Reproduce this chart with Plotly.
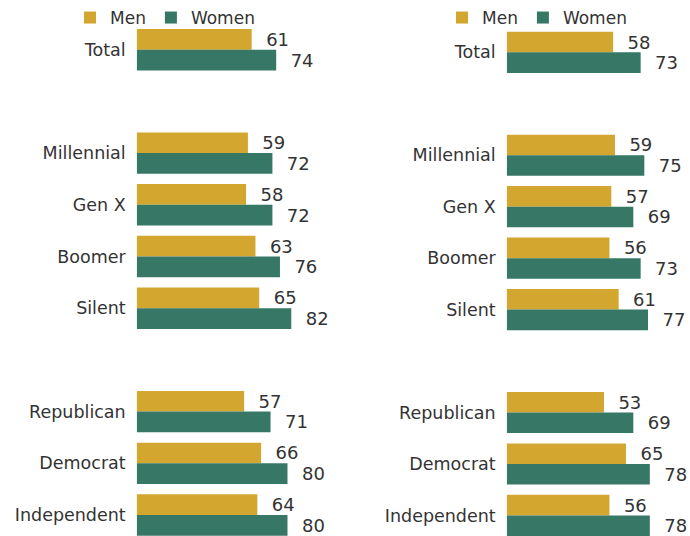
import plotly.graph_objects as go

categories = ["Total", "Millennial", "Gen X", "Boomer", "Silent", "Republican", "Democrat", "Independent"]
left_men = [61, 59, 58, 63, 65, 57, 66, 64]
left_women = [74, 72, 72, 76, 82, 71, 80, 80]
right_men = [58, 59, 57, 56, 61, 53, 65, 56]
right_women = [73, 75, 69, 73, 77, 69, 78, 78]

MEN_COLOR = "#D2A62F"
WOMEN_COLOR = "#377766"
TEXT_COLOR = "#333333"
FONT = "DejaVu Sans"

# category order with blank spacer rows between groups
cat_order = ["Total", " ", "Millennial", "Gen X", "Boomer", "Silent", "  ",
             "Republican", "Democrat", "Independent"]

W, H = 690, 536

fig = go.Figure()

def add_pair(men, women, xa, ya, legend):
    for name, vals, color in (("Men", men, MEN_COLOR), ("Women", women, WOMEN_COLOR)):
        fig.add_trace(go.Bar(
            y=categories, x=vals, name=name, orientation="h",
            marker=dict(color=color, line=dict(width=0)),
            text=vals, texttemplate="\u00a0\u00a0%{x}",
            textposition="outside", cliponaxis=False, constraintext="none",
            textfont=dict(family=FONT, size=18, color=TEXT_COLOR),
            xaxis=xa, yaxis=ya, legend=legend, hoverinfo="skip",
        ))

add_pair(left_men, left_women, "x", "y", "legend")
add_pair(right_men, right_women, "x2", "y2", "legend2")

left_x0 = 136.7
left_ppu = 1.885
right_x0 = 506.7
right_ppu = 1.835

axis_common = dict(showgrid=False, zeroline=False, showline=False, showticklabels=False, fixedrange=True)
ycommon = dict(type="category", categoryorder="array", categoryarray=cat_order,
               showgrid=False, zeroline=False, showline=False, ticks="",
               ticklabelstandoff=10,
               tickfont=dict(family=FONT, size=17.5, color=TEXT_COLOR))

legend_common = dict(orientation="h", xanchor="left", y=1.0, yanchor="top",
                     font=dict(family=FONT, size=17, color=TEXT_COLOR),
                     bgcolor="rgba(0,0,0,0)", itemclick=False, itemdoubleclick=False,
                     tracegroupgap=0)

fig.update_layout(
    width=W, height=H,
    margin=dict(l=0, r=0, t=0, b=0),
    paper_bgcolor="white", plot_bgcolor="white",
    barmode="group", bargap=0.2, bargroupgap=0,
    showlegend=True,
    xaxis=dict(domain=[left_x0 / W, (left_x0 + 100 * left_ppu) / W], range=[0, 100], anchor="y", **axis_common),
    xaxis2=dict(domain=[right_x0 / W, 1.0], range=[0, (W - right_x0) / right_ppu], anchor="y2", **axis_common),
    yaxis=dict(domain=[0, 1 - 23.85 / H], range=[9.406, -0.5], anchor="x", **ycommon),
    yaxis2=dict(domain=[0, 1 - 26.57 / H], range=[9.4, -0.5], anchor="x2", **ycommon),
    legend=dict(x=70 / W, **legend_common),
    legend2=dict(x=442 / W, **legend_common),
    font=dict(family=FONT, color=TEXT_COLOR),
)

fig.write_html("out.html")
